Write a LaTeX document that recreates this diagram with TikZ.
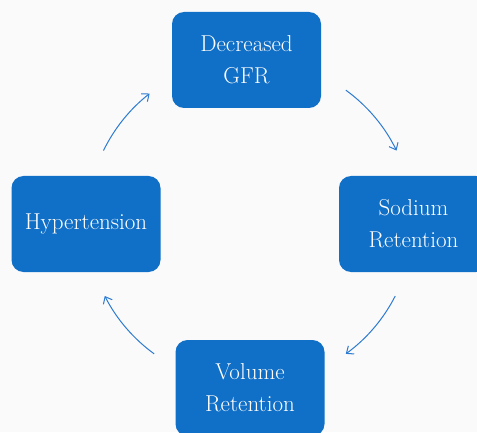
\documentclass[tikz,border=0pt]{standalone}
\usetikzlibrary{arrows.meta,calc}
\definecolor{boxblue}{HTML}{106FC7}
\definecolor{arrowblue}{HTML}{2D7BD2}
\definecolor{bg}{HTML}{FAFAFA}
\tikzset{
  stepbox/.style={fill=boxblue, rounded corners=12pt, minimum width=149pt, minimum height=96pt,
    text=white, align=center, font=\fontsize{23}{32}\selectfont, inner sep=0pt},
  cyclearrow/.style={draw=arrowblue, line width=1pt, -{Straight Barb[length=6pt,width=10pt]}}
}
\begin{document}
\begin{tikzpicture}[x=1pt,y=1pt]
\useasboundingbox (0,0) rectangle (477,432);
\clip (0,0) rectangle (477,432);
\fill[bg] (0,0) rectangle (477,432);
\node[stepbox] (gfr) at (246.5,372) {Decreased\\GFR};
\node[stepbox] (sod) at (413.5,208) {Sodium\\Retention};
\node[stepbox] (vol) at (250,44) {Volume\\Retention};
\node[stepbox] (hyp) at (86,208) {Hypertension};
\coordinate (c) at (250,210);
\coordinate (s1) at ($(c)+(54:163)$);
\coordinate (s2) at ($(c)+(-27:163)$);
\coordinate (s3) at ($(c)+(-126:163)$);
\coordinate (s4) at ($(c)+(154:163)$);
\draw[cyclearrow] (s1) arc[start angle=54, end angle=26, radius=163];
\draw[cyclearrow] (s2) arc[start angle=-27, end angle=-54, radius=163];
\draw[cyclearrow] (s3) arc[start angle=-126, end angle=-153, radius=163];
\draw[cyclearrow] (s4) arc[start angle=154, end angle=128, radius=163];
\end{tikzpicture}
\end{document}
